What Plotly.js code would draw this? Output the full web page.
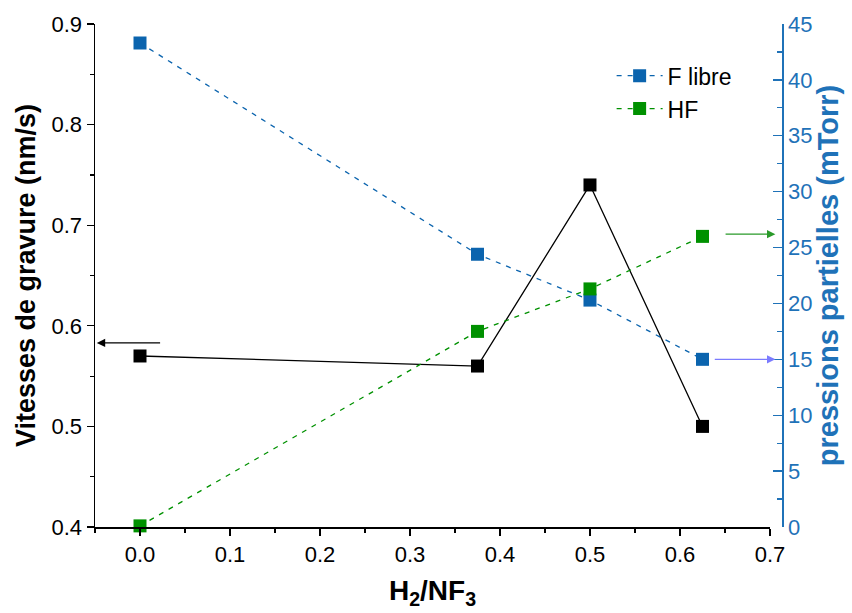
<!DOCTYPE html>
<html>
<head>
<meta charset="utf-8">
<script src="https://cdn.plot.ly/plotly-3.0.1.min.js"></script>
<style>html,body{margin:0;padding:0;background:#fff;}#chart{width:852px;height:613px;}</style>
</head>
<body>
<div id="chart"></div>
<script>
// Data
const ratio = [0, 0.375, 0.5, 0.625];            // H2/NF3
const etchRate = [0.57, 0.56, 0.74, 0.50];        // Vitesses de gravure (nm/s)
const fLibre = [43.3, 24.4, 20.3, 15.0];          // F libre (mTorr)
const hf = [0.1, 17.5, 21.3, 26.0];               // HF (mTorr)
const seriesNames = ["F libre", "HF"];

const BLUE = '#0b64ae';
const AXBLUE = '#1f72b8';
const GREEN = '#009100';
const FONT = 'Liberation Sans, Arial, Helvetica, sans-serif';

const traces = [
  {x: ratio, y: etchRate, type: 'scatter', mode: 'lines+markers', xaxis: 'x', yaxis: 'y',
   line: {color: '#000', width: 1.3}, marker: {symbol: 'square', size: 13, color: '#000'},
   showlegend: false, cliponaxis: false},
  {x: ratio, y: fLibre, type: 'scatter', mode: 'lines+markers', xaxis: 'x', yaxis: 'y2', name: seriesNames[0],
   line: {color: BLUE, width: 1.3, dash: '5px,6px'}, marker: {symbol: 'square', size: 13, color: BLUE},
   cliponaxis: false},
  {x: ratio, y: hf, type: 'scatter', mode: 'lines+markers', xaxis: 'x', yaxis: 'y2', name: seriesNames[1],
   line: {color: GREEN, width: 1.3, dash: '5px,6px'}, marker: {symbol: 'square', size: 13, color: GREEN},
   cliponaxis: false}
];

const layout = {
  width: 852, height: 613,
  margin: {l: 95, r: 70, t: 24, b: 86},
  paper_bgcolor: '#fff', plot_bgcolor: '#fff',
  font: {family: FONT, size: 22, color: '#000'},
  showlegend: true,
  legend: {x: 0.752, y: 0.94, xanchor: 'left', yanchor: 'top', bgcolor: 'rgba(0,0,0,0)',
           itemwidth: 46, font: {family: FONT, size: 23, color: '#000'}, tracegroupgap: 0},
  xaxis: {domain: [0, 0.9825], range: [-0.05, 0.7], dtick: 0.1, tick0: 0, tickformat: '.1f',
          ticks: 'outside', ticklen: 7, tickwidth: 1.3, tickcolor: '#000',
          minor: {dtick: 0.05, ticks: 'outside', ticklen: 4, tickwidth: 1.2, tickcolor: '#000'},
          showline: true, linecolor: '#000', linewidth: 1.5, showgrid: false, zeroline: false,
          tickfont: {size: 22},
          title: {text: '<b>H<sub>2</sub>/NF<sub>3</sub></b>', font: {size: 28}, standoff: 14}},
  xaxis3: {domain: [0, 0.9825], range: [-0.05, 0.7], dtick: 0.1, tick0: 0, overlaying: 'x', side: 'top', anchor: 'y',
           ticks: 'inside', ticklen: 7, tickwidth: 1.3, tickcolor: '#000', showticklabels: false,
           minor: {dtick: 0.05, ticks: 'inside', ticklen: 4, tickwidth: 1.2, tickcolor: '#000'},
           showline: true, linecolor: '#000', linewidth: 1.5, showgrid: false, zeroline: false},
  yaxis: {range: [0.4, 0.9], dtick: 0.1, tick0: 0.4, tickformat: '.1f',
          ticks: 'outside', ticklen: 7, tickwidth: 1.3, tickcolor: '#000',
          minor: {dtick: 0.05, ticks: 'outside', ticklen: 4, tickwidth: 1.2, tickcolor: '#000'},
          showline: true, linecolor: '#000', linewidth: 1.5, showgrid: false, zeroline: false,
          tickfont: {size: 22},
          title: {text: '<b>Vitesses de gravure (nm/s)</b>', font: {size: 27}, standoff: 8}},
  yaxis2: {range: [0, 45], dtick: 5, tick0: 0, overlaying: 'y', side: 'right', anchor: 'free', position: 1,
           ticks: 'inside', ticklen: 9, tickwidth: 1.3, tickcolor: AXBLUE,
           minor: {dtick: 2.5, ticks: 'inside', ticklen: 5, tickwidth: 1.2, tickcolor: AXBLUE},
           showline: true, linecolor: AXBLUE, linewidth: 1.5, showgrid: false, zeroline: false,
           tickfont: {size: 22, color: AXBLUE},
           title: {text: '<b>pressions partielles (mTorr)</b>', font: {size: 29, color: AXBLUE}, standoff: 6}},
  annotations: [
    {xref: 'x', yref: 'y', axref: 'x', ayref: 'y', x: -0.048, y: 0.583, ax: 0.024, ay: 0.583,
     text: '', showarrow: true, arrowhead: 2, arrowsize: 1.4, arrowwidth: 1.2, arrowcolor: '#000'},
    {xref: 'x', yref: 'y2', axref: 'x', ayref: 'y2', x: 0.706, y: 26.2, ax: 0.649, ay: 26.2,
     text: '', showarrow: true, arrowhead: 2, arrowsize: 1.4, arrowwidth: 1.2, arrowcolor: '#2a9a2a'},
    {xref: 'x', yref: 'y2', axref: 'x', ayref: 'y2', x: 0.706, y: 15.0, ax: 0.637, ay: 15.0,
     text: '', showarrow: true, arrowhead: 2, arrowsize: 1.4, arrowwidth: 1.2, arrowcolor: '#7b7bff'}
  ]
};

Plotly.newPlot('chart', traces, layout, {displayModeBar: false, staticPlot: true});
</script>
</body>
</html>
